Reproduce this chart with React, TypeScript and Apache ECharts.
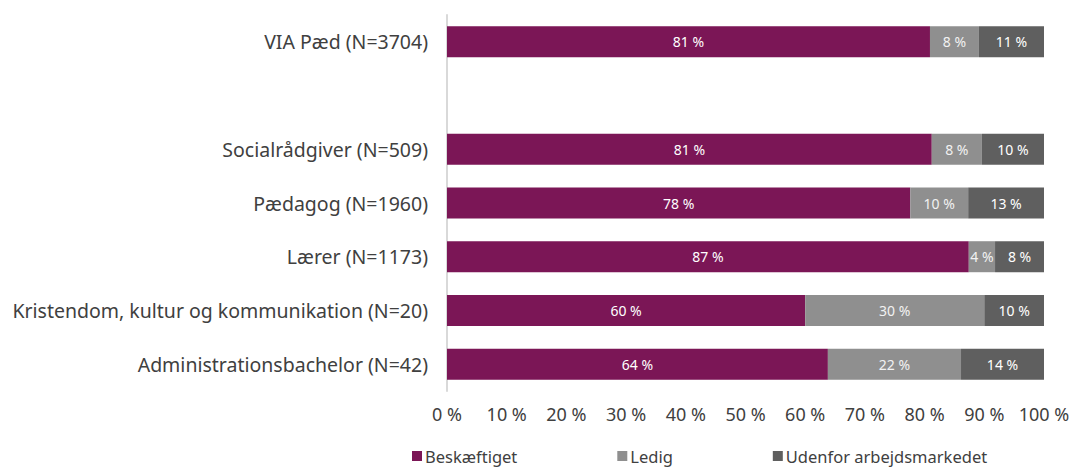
import React, { useEffect, useRef } from "react";
import * as echarts from "echarts";

const categories = [
  "VIA Pæd (N=3704)",
  "",
  "Socialrådgiver (N=509)",
  "Pædagog (N=1960)",
  "Lærer (N=1173)",
  "Kristendom, kultur og kommunikation (N=20)",
  "Administrationsbachelor (N=42)",
];
const beskaeftiget = [80.9, null, 81.2, 77.6, 87.4, 60.0, 63.8];
const ledig = [8.2, null, 8.4, 9.7, 4.4, 30.0, 22.3];
const udenfor = [10.9, null, 10.4, 12.7, 8.2, 10.0, 13.9];
const seriesNames = ["Beskæftiget", "Ledig", "Udenfor arbejdsmarkedet"];
const colors = ["#7B1656", "#8F8F8F", "#5F5F5F"];

const FONT = "'Noto Sans', sans-serif";

export default function App() {
  const ref = useRef<HTMLDivElement>(null);
  useEffect(() => {
    if (!ref.current) return;
    const chart = echarts.init(ref.current, undefined, { renderer: "svg" });
    const data = [beskaeftiget, ledig, udenfor];
    chart.setOption({
      animation: false,
      textStyle: { fontFamily: FONT },
      grid: { left: 447, right: 32, top: 15, bottom: 81, containLabel: false },
      xAxis: {
        type: "value",
        min: 0,
        max: 100,
        interval: 10,
        splitLine: { show: false },
        axisLine: { show: false },
        axisTick: { show: false },
        axisLabel: {
          formatter: (v: number) => `${v} %`,
          fontSize: 18,
          color: "#404040",
          fontFamily: FONT,
          margin: 14,
        },
      },
      yAxis: {
        type: "category",
        data: categories,
        inverse: true,
        axisLine: { show: true, lineStyle: { color: "#D9D9D9", width: 2 } },
        axisTick: { show: false },
        axisLabel: { fontSize: 19.5, color: "#404040", fontFamily: FONT, margin: 19 },
      },
      legend: {
        left: 412,
        top: 447,
        padding: 0,
        itemWidth: 10,
        itemHeight: 10,
        itemGap: 100,
        icon: "rect",
        textStyle: {
          fontSize: 16.5,
          lineHeight: 18,
          color: "#404040",
          fontFamily: FONT,
          padding: [0, 0, 0, -2],
        },
        data: seriesNames,
      },
      series: seriesNames.map((name, i) => ({
        name,
        type: "bar",
        stack: "total",
        barWidth: 31,
        data: data[i],
        itemStyle: { color: colors[i] },
        label: {
          show: true,
          position: "inside",
          formatter: (p: any) => `${Math.round(p.value)} %`,
          color: i === 1 ? "#F2F2F2" : "#FFFFFF",
          fontSize: 14,
          fontFamily: FONT,
        },
      })),
    });
    return () => chart.dispose();
  }, []);
  return <div ref={ref} style={{ width: 1076, height: 472, position: "absolute", left: 0, top: 0 }} />;
}
